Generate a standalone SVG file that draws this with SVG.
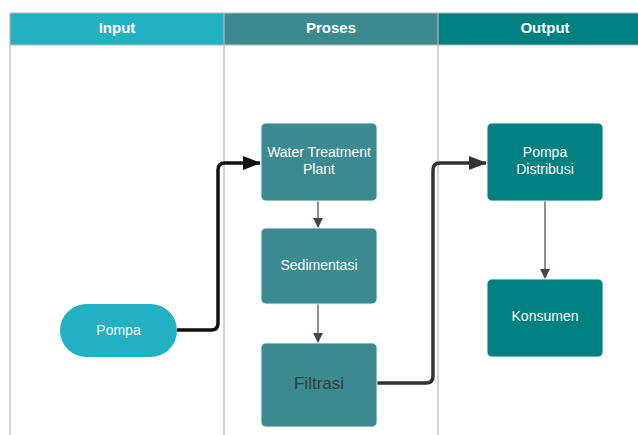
<svg xmlns="http://www.w3.org/2000/svg" width="638" height="435" viewBox="0 0 638 435">
<style>
.hdr{font-family:"Liberation Sans",Arial,sans-serif;font-size:15px;font-weight:bold;fill:#fff;text-anchor:middle}
.lbl{font-family:"Liberation Sans",Arial,sans-serif;font-size:14px;fill:#fff;text-anchor:middle}
.div{stroke:#b8b8b8;stroke-width:1.2;fill:none}
.pr{fill:#3a8a90;stroke:#e6eef0;stroke-width:1}
.op{fill:#008080;stroke:#e6eef0;stroke-width:1}
.thin{stroke:#3f4652;stroke-width:1.2;fill:none}
.thick{stroke-width:3.5;fill:none}
</style>
<defs>
<marker id="ah" markerWidth="10" markerHeight="10" refX="9" refY="5" orient="auto" markerUnits="userSpaceOnUse"><path d="M0,0 L10,5 L0,10 z" fill="#3f4652"/></marker>
<marker id="abk" markerWidth="18" markerHeight="14" refX="17" refY="7" orient="auto" markerUnits="userSpaceOnUse"><path d="M0,0 L18,7 L0,14 z" fill="#111"/></marker>
<marker id="adk" markerWidth="18" markerHeight="14" refX="17" refY="7" orient="auto" markerUnits="userSpaceOnUse"><path d="M0,0 L18,7 L0,14 z" fill="#333"/></marker>
</defs>
<rect width="638" height="435" fill="#fff"/>
<g id="lanes">
<rect x="10" y="13" width="214" height="32" fill="#22b1c2"/>
<rect x="224" y="13" width="214" height="32" fill="#3a8a90"/>
<rect x="438" y="13" width="200" height="32" fill="#008080"/>
<line class="div" x1="10" y1="13" x2="638" y2="13"/>
<line class="div" x1="10" y1="45" x2="638" y2="45"/>
<line class="div" x1="10" y1="13" x2="10" y2="435"/>
<line class="div" x1="224" y1="13" x2="224" y2="435"/>
<line class="div" x1="438" y1="13" x2="438" y2="435"/>
<text class="hdr" x="117" y="33">Input</text>
<text class="hdr" x="331" y="33">Proses</text>
<text class="hdr" x="545" y="33">Output</text>
</g>
<g id="connectors">
<path class="thick" stroke="#111" d="M177,330 H211 Q218,330 218,323 V170 Q218,163 225,163 H260" marker-end="url(#abk)"/>
<path class="thick" stroke="#333" d="M376,383 H426 Q433,383 433,376 V170 Q433,163 440,163 H486" marker-end="url(#adk)"/>
<line class="thin" x1="318" y1="201" x2="318" y2="227" marker-end="url(#ah)"/>
<line class="thin" x1="318" y1="304" x2="318" y2="342" marker-end="url(#ah)"/>
<line class="thin" stroke="#6b7380" x1="545" y1="201" x2="545" y2="278" marker-end="url(#ah)"/>
</g>
<g id="pompa">
<rect x="60" y="304" width="117" height="53" rx="26.5" fill="#22b1c2"/>
<text class="lbl" x="118.5" y="335">Pompa</text>
</g>
<g id="wtp">
<rect class="pr" x="261" y="123" width="116" height="78" rx="5"/>
<text class="lbl" x="319" y="157">Water Treatment</text>
<text class="lbl" x="319" y="174">Plant</text>
</g>
<g id="sedimentasi">
<rect class="pr" x="261" y="228" width="116" height="76" rx="5"/>
<text class="lbl" x="319" y="270">Sedimentasi</text>
</g>
<g id="filtrasi">
<rect class="pr" x="261" y="343" width="116" height="84" rx="5"/>
<text x="319" y="389" font-family="Liberation Sans,Arial,sans-serif" font-size="17" fill="#333b44" text-anchor="middle">Filtrasi</text>
</g>
<g id="pompa-distribusi">
<rect class="op" x="487" y="123" width="116" height="78" rx="5"/>
<text class="lbl" x="545" y="157">Pompa</text>
<text class="lbl" x="545" y="174">Distribusi</text>
</g>
<g id="konsumen">
<rect class="op" x="487" y="279" width="116" height="78" rx="5"/>
<text class="lbl" x="545" y="321">Konsumen</text>
</g>
</svg>
